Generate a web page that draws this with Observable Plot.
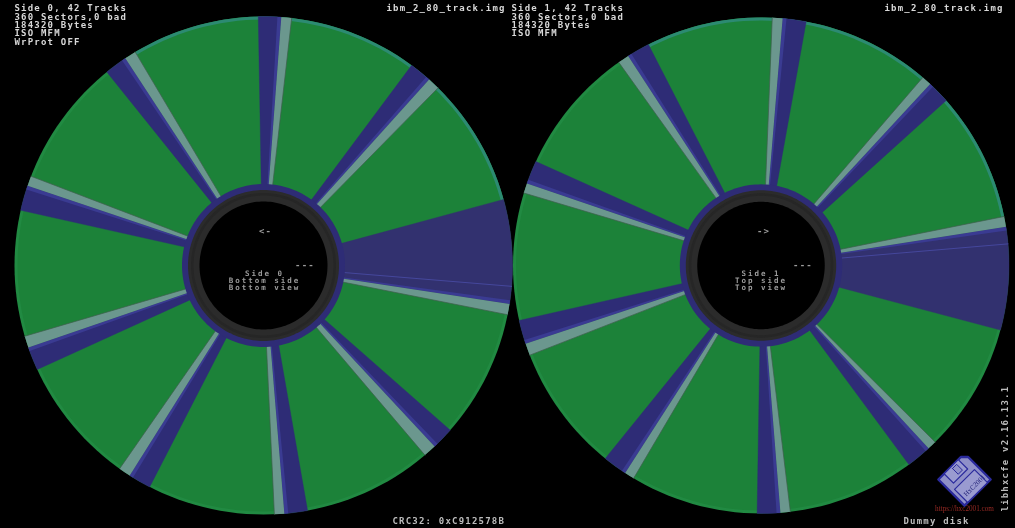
<!DOCTYPE html>
<html>
<head>
<meta charset="utf-8">
<style>html,body{margin:0;padding:0;background:#000;overflow:hidden}svg{display:block}</style>
<script src="https://cdn.jsdelivr.net/npm/d3@7"></script>
<script src="https://cdn.jsdelivr.net/npm/@observablehq/plot@0.6"></script>
</head>
<body>
<div id="chart"></div>
<script>
// Sector gap boundaries, clock degrees from 12 o'clock
// Side 0: [blue start, blue end, grey end]
const side0Inner = [[-1.6,3.7,6.5],[36.1,41,44.4],[74.2,99.4,101.8],[131.5,135.7,139.5],[169.2,175,177.9],[207.2,213.2,216.3],[244.9,250.1,253.2],[283.2,288.9,291.2],[320.5,325.3,328.4]];
const side0Outer = [[-1.2,4.1,6.5],[36.5,41.7,44.5],[74.6,98.9,101.4],[131.4,136.6,139.6],[169.8,175.2,177.5],[207.2,212.5,215.3],[245.3,250.8,253.5],[282.8,288.7,291],[321,326.3,329]];
// Side 1: [grey start, grey end, blue end]
const side1Inner = [[3.2,5.5,11.2],[40.7,43.5,49.1],[78.5,80.9,105.6],[136.5,138,143.1],[173.4,175.7,180.8],[211.7,214.2,218.7],[249,251.6,257.1],[287.8,290.4,296],[326.3,329.1,333.5]];
const side1Outer = [[2.6,5,10.5],[40.7,43,48.3],[78.6,81,105.1],[135.4,137.5,143.4],[173.2,175.5,180.9],[210.9,213.2,218.9],[248.8,251.6,257.2],[287,289.3,294.8],[325,327.6,333]];
const thinLine0 = [95, 94.8];
const thinLine1 = [84.7, 85];
const tealRim0 = [329, 434.6];
const tealRim1 = [333, 438.6];

const side0Info = ["Side 0, 42 Tracks","360 Sectors,0 bad","184320 Bytes","ISO MFM","WrProt OFF"];
const side1Info = ["Side 1, 42 Tracks","360 Sectors,0 bad","184320 Bytes","ISO MFM"];
const side0Centre = ["Side 0","Bottom side","Bottom view"];
const side1Centre = ["Side 1","Top side","Top view"];
const fileName = "ibm_2_80_track.img";

const GREEN="#1c8239", BLUE="#2e2c76", BIG="#32316f", EDGE="#3a3b92", GREY="#6b978e", RIM="#218a42", TEAL="#2c8a72";
const R={hole:64,dark:75.5,hub:81.5,green:246,outer:249};
const discs=[{cx:263,cy:265,scale:1},{cx:760.5,cy:265,scale:248/249}];

const pt=(d,r,a)=>({x:d.cx+r*d.scale*Math.sin(a*Math.PI/180),y:d.cy-r*d.scale*Math.cos(a*Math.PI/180)});
let uid=0;
function circle(d,r){const id=uid++;return d3.range(0,361,2).map(a=>({...pt(d,r,a),id}));}
function wedge(d,ia,ib,oa,ob){
  const id=uid++,n=Math.max(2,Math.ceil(Math.abs(ob-oa)/1.5));
  const pts=[{...pt(d,R.hub-2,ia),id}];
  for(let i=0;i<=n;i++)pts.push({...pt(d,R.outer,oa+(ob-oa)*i/n),id});
  pts.push({...pt(d,R.hub-2,ib),id});
  return pts;
}
const fan=(d,a,b)=>{const id=uid++,n=Math.ceil((b-a)/2),p=[{x:d.cx,y:d.cy,id}];for(let i=0;i<=n;i++)p.push({...pt(d,R.outer,a+(b-a)*i/n),id});return p;};
const shape=(pts,c,sw=0.4)=>Plot.line(pts,{x:"x",y:"y",z:"id",fill:c,stroke:c,strokeWidth:sw,curve:"linear"});
const seg=(d,a,b,c,w)=>Plot.line([pt(d,R.hub,a),pt(d,R.outer,b)],{x:"x",y:"y",stroke:c,strokeWidth:w});

const marks=[];
const EW=0.9;
discs.forEach((d,k)=>{
  marks.push(shape(circle(d,R.outer),RIM,0));
  const rim=k?tealRim1:tealRim0;
  marks.push(shape(fan(d,rim[0],rim[1]),TEAL,0));
  marks.push(shape(circle(d,R.green),GREEN,0));
  const inner=k?side1Inner:side0Inner, outer=k?side1Outer:side0Outer;
  inner.forEach((ia,i)=>{
    const oa=outer[i];
    if(k===0){
      marks.push(shape(wedge(d,ia[0],ia[1],oa[0],oa[1]),i===2?BIG:BLUE));
      marks.push(shape(wedge(d,ia[1]-EW,ia[1],oa[1]-EW,oa[1]),EDGE,0));
      marks.push(shape(wedge(d,ia[1],ia[2],oa[1],oa[2]),GREY,0));
      marks.push(seg(d,ia[2],oa[2],"#3d5e4c",0.7));
    }else{
      marks.push(shape(wedge(d,ia[1],ia[2],oa[1],oa[2]),i===2?BIG:BLUE));
      marks.push(shape(wedge(d,ia[1],ia[1]+EW,oa[1],oa[1]+EW),EDGE,0));
      marks.push(shape(wedge(d,ia[0],ia[1],oa[0],oa[1]),GREY,0));
      marks.push(seg(d,ia[0],oa[0],"#3d5e4c",0.7));
    }
  });
  const t=k?thinLine1:thinLine0;
  marks.push(seg(d,t[0],t[1],"#45479c",1));
  marks.push(shape(circle(d,R.hub),BLUE,0));
  marks.push(shape(circle(d,R.dark),"#2b2b2b",0));
  marks.push(shape(circle(d,72.5),"#262626",0));
  marks.push(shape(circle(d,70),"#2b2b2b",0));
  marks.push(shape(circle(d,R.hole),"#000",0));
});

// Floppy logo, in its own unit square
const logo={cx:964,cy:479,s:37};
const lp=(u,v)=>({x:logo.cx+logo.s*0.7071*((u-.5)+(v-.5)),y:logo.cy+logo.s*0.7071*((v-.5)-(u-.5))});
const poly=(a,c,stroke,w)=>Plot.line([...a,a[0]].map(p=>lp(p[0],p[1])),{x:"x",y:"y",fill:c,stroke,strokeWidth:w,curve:"linear"});
marks.push(poly([[0,0],[.86,0],[1,.14],[1,1],[0,1]],"#8f90c8","#2a2a9c",2.4));
marks.push(poly([[.22,0],[.76,0],[.76,.36],[.22,.36]],"#9a9bd0","#2a2a9c",1.2));
marks.push(poly([[.48,.06],[.64,.06],[.64,.28],[.48,.28]],"#8f90c8","#2a2a9c",1));
marks.push(poly([[.12,.5],[.88,.5],[.88,1],[.12,1]],"#9a9bd0","#2a2a9c",1.2));

// Text
const MONO="DejaVu Sans Mono";
const txt=(rows,o)=>Plot.text(rows,{x:"x",y:"y",text:"t",fontFamily:MONO,fontWeight:"bold",fontSize:9,fill:"#d8d8d8",lineAnchor:"middle",...o});
const infoY=[8,16.5,24.7,33,41.3];
marks.push(txt(side0Info.map((t,i)=>({t,x:14,y:infoY[i]})),{textAnchor:"start"}));
marks.push(txt(side1Info.map((t,i)=>({t,x:511,y:infoY[i]})),{textAnchor:"start"}));
marks.push(txt([{t:fileName,x:386,y:8},{t:fileName,x:884,y:8}],{textAnchor:"start"}));
const centreY=[273.5,280.5,287.5];
marks.push(txt(side0Centre.map((t,i)=>({t,x:264,y:centreY[i]})),{textAnchor:"middle",fill:"#9c9c9c",fontSize:7.5}));
marks.push(txt(side1Centre.map((t,i)=>({t,x:760.5,y:centreY[i]})),{textAnchor:"middle",fill:"#9c9c9c",fontSize:7.5}));
marks.push(txt([{t:"<-",x:265,y:231},{t:"->",x:763,y:231},{t:"---",x:304.5,y:265},{t:"---",x:802.5,y:265}],{textAnchor:"middle",fill:"#9c9c9c"}));
marks.push(txt([{t:"CRC32: 0xC912578B",x:392,y:521},{t:"Dummy disk",x:903,y:521}],{textAnchor:"start",fill:"#bcbcbc"}));
marks.push(txt([{t:"libhxcfe v2.16.13.1",x:1005,y:511}],{textAnchor:"start",rotate:-90,fill:"#bcbcbc"}));
marks.push(Plot.text([{t:"https://hxc2001.com",x:964,y:508}],{x:"x",y:"y",text:"t",fontFamily:"Liberation Serif",fontSize:7.2,fill:"#9a2a24",textAnchor:"middle",lineAnchor:"middle"}));
marks.push(Plot.text([{t:"HxC2001",x:974,y:485}],{x:"x",y:"y",text:"t",fontFamily:"Liberation Serif",fontSize:7,fill:"#25257a",textAnchor:"middle",lineAnchor:"middle",rotate:-45}));

const chart=Plot.plot({
  width:1015,height:528,
  marginTop:0,marginRight:0,marginBottom:0,marginLeft:0,
  x:{domain:[0,1015],range:[0,1015],axis:null},
  y:{domain:[0,528],range:[0,528],axis:null},
  style:{background:"#000",display:"block",filter:"blur(0.35px)"},
  marks
});
chart.querySelectorAll('g[font-size="9"]').forEach(g=>{g.style.letterSpacing="1.2px";});
chart.querySelectorAll('g[font-size="7.5"]').forEach(g=>{g.style.letterSpacing="2px";});
document.getElementById("chart").append(chart);
</script>
</body>
</html>
